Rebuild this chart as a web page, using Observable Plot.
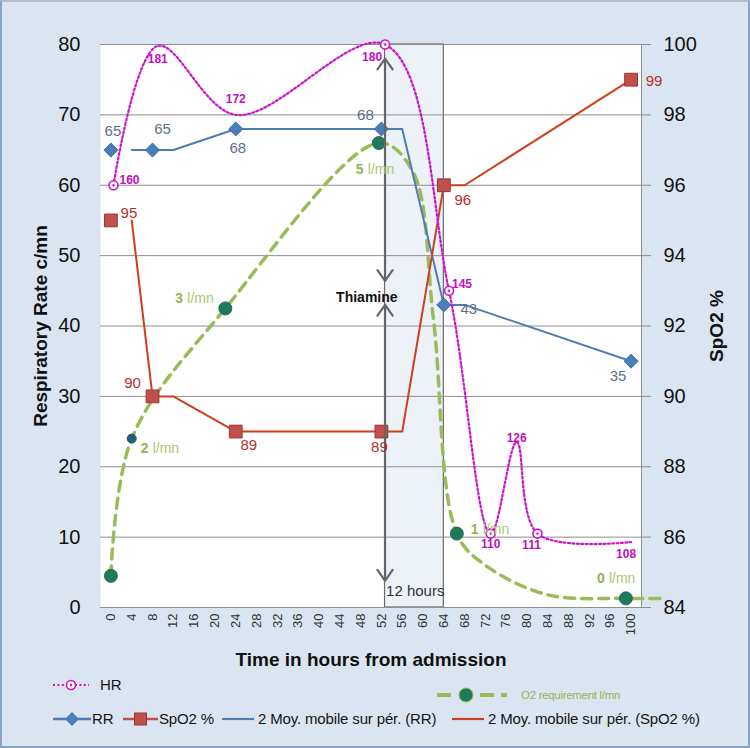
<!DOCTYPE html>
<html>
<head>
<meta charset="utf-8">
<script src="https://cdn.jsdelivr.net/npm/d3@7"></script>
<script src="https://cdn.jsdelivr.net/npm/@observablehq/plot@0.6"></script>
<style>
  body { margin: 0; background: #fff; }
  #frame { position: relative; width: 750px; height: 748px; background: #dbe5f1; overflow: hidden;
           font-family: "Liberation Sans", sans-serif; }
  #border { position: absolute; left: 0; top: 0; width: 750px; height: 748px; box-sizing: border-box;
            border: 2px solid #8aa3c4; border-top-color: #b7bec8; pointer-events: none; }
  #chart { position: absolute; left: 0; top: 0; }
  .lg { position: absolute; line-height: 20px; height: 20px; white-space: nowrap; font-size: 15px;
        letter-spacing: -0.15px; color: #141414; }
  .sw { position: absolute; overflow: visible; }
</style>
</head>
<body>
<div id="frame">
  <div id="chart"></div>
  <div id="legend"></div>
  <div id="border"></div>
</div>
<script>
// ---------- data ----------
const xTicks = [0,4,8,12,16,20,24,28,32,36,40,44,48,52,56,60,64,68,72,76,80,84,88,92,96,100];
const rrTicks = [0,10,20,30,40,50,60,70,80];
const spo2Ticks = [84,86,88,90,92,94,96,98,100];

const rrHours  = [0, 8, 24, 52, 64, 100];
const rrValues = [65, 65, 68, 68, 43, 35];

const spo2Hours  = [0, 8, 24, 52, 64, 100];
const spo2Values = [95, 90, 89, 89, 96, 99];

const rrMaHours  = [4, 12, 24, 56, 64, 68, 100];
const rrMaValues = [65, 65, 68, 68, 43, 43, 35];

const spo2MaHours  = [4, 8, 12, 24, 56, 64, 68, 100];
const spo2MaValues = [95, 90, 90, 89, 89, 96, 96, 99];

const hrHours   = [0.5, 9, 24, 52.7, 65, 73, 78, 82, 100];
const hrValues  = [160, 181, 172, 180, 145, 110, 126, 111, 108];
const hrPlotted = [60, 79.8, 70, 80, 45, 10.5, 23.5, 10.5, 9.3];   // height drawn on the left axis
const hrMarked  = [true, false, false, true, true, true, false, true, false];

const o2Hours   = [0, 4, 22, 51.5, 58, 62, 66.5, 72, 84, 99, 106.5];
const o2Plotted = [4.5, 24, 42.5, 66, 62, 41, 10.5, 6, 1.8, 1.3, 1.3];
const o2Marker  = ["big", "small", "big", "big", null, null, "big", null, null, "big", null];
const o2Labels  = [null, "2", "3", "5", null, null, "1", null, null, "0", null];

const thiamineBox = [{start: 52.7, end: 64}];
const thiamineArrows = [
  {x: 52.7, from: 62, to: 78}, {x: 52.7, from: 62, to: 46.4},
  {x: 52.7, from: 23, to: 43}, {x: 52.7, from: 23, to: 3.8}
];
const thiamineText = [{x: 49.2, y: 44, text: "Thiamine"}];
const twelveText = [{x: 52.7, y: 2.3, text: "12 hours"}];

// ---------- build tables ----------
const toLeft = v => (v - 84) * 5;   // SpO2 % -> left axis units
const rr = rrHours.map((h, i) => ({h, v: rrValues[i]}));
const spo2 = spo2Hours.map((h, i) => ({h, v: spo2Values[i]}));
const rrMa = rrMaHours.map((h, i) => ({h, v: rrMaValues[i]}));
const spo2Ma = spo2MaHours.map((h, i) => ({h, v: spo2MaValues[i]}));
const hr = hrHours.map((h, i) => ({h, v: hrPlotted[i], label: hrValues[i], marked: hrMarked[i]}));
const o2 = o2Hours.map((h, i) => ({h, v: o2Plotted[i], marker: o2Marker[i], label: o2Labels[i]}));

// label placement (layout only)
const rrOff   = [[2,-19],[10,-21],[2,19],[-16,-14],[25,4],[-13,15]];
const spo2Off = [[18,-7],[-20,-13],[13,14],[-2,16],[19,15],[23,1]];
const hrOff   = [[16,-5],[0,13],[0,-16],[-13,13],[13,-7],[0,11],[0,-4],[-6,12],[-5,12]];
const o2Off   = {1: [9,10], 2: [-50,-10], 3: [-23,26], 6: [14,-4], 9: [-29,-20]};

const FONT = "'Liberation Sans', sans-serif";

const labelMarks = [];
rr.forEach((d, i) => labelMarks.push(Plot.text([d], {x: "h", y: "v", text: d => String(d.v),
  dx: rrOff[i][0], dy: rrOff[i][1], fill: "#5c7189", fontSize: 15, fontFamily: FONT})));
spo2.forEach((d, i) => labelMarks.push(Plot.text([d], {x: "h", y: d => toLeft(d.v), text: d => String(d.v),
  dx: spo2Off[i][0], dy: spo2Off[i][1], fill: "#b3302c", fontSize: 15, fontFamily: FONT})));
hr.forEach((d, i) => labelMarks.push(Plot.text([d], {x: "h", y: "v", text: d => String(d.label),
  dx: hrOff[i][0], dy: hrOff[i][1], fill: "#c010c0", fontSize: 12, fontWeight: "bold", fontFamily: FONT})));
o2.forEach((d, i) => {
  if (d.label == null) return;
  const [dx, dy] = o2Off[i];
  labelMarks.push(Plot.text([d], {x: "h", y: "v", text: "label", dx, dy, textAnchor: "start",
    fill: "#93b452", fontSize: 14, fontWeight: "bold", fontFamily: FONT}));
  labelMarks.push(Plot.text([d], {x: "h", y: "v", text: () => "l/mn", dx: dx + 12, dy, textAnchor: "start",
    fill: "#aac772", fontSize: 14, fontFamily: FONT}));
});

const chart = Plot.plot({
  width: 750, height: 675,
  marginLeft: 100, marginRight: 109, marginTop: 44, marginBottom: 68,
  style: {background: "transparent", fontFamily: FONT, overflow: "visible"},
  x: {domain: [-2, 102]},
  y: {domain: [0, 80]},
  marks: [
    Plot.frame({fill: "white", stroke: null}),
    Plot.rect(thiamineBox, {x1: "start", x2: "end", y1: 0, y2: 80, fill: "#edf2f9", stroke: "#6a6a6a", strokeWidth: 1.2}),
    Plot.ruleY(rrTicks, {stroke: "#8e8e8e", strokeWidth: 1}),
    Plot.frame({anchor: "right", stroke: "#8e8e8e"}),
    Plot.axisY(rrTicks, {anchor: "left", tickSize: 0, tickPadding: 20, fontSize: 20, label: null, fill: "#111"}),
    Plot.axisY(spo2Ticks.map(toLeft), {anchor: "right", tickSize: 9, tickPadding: 13, fontSize: 20, label: null,
      fill: "#111", stroke: "#8e8e8e", tickFormat: d => String(Math.round(d / 5 + 84))}),
    Plot.axisX(xTicks, {anchor: "bottom", tickSize: 0, tickPadding: 6, tickRotate: -90, textAnchor: "end",
      fontSize: 13, label: null, fill: "#333"}),
    Plot.text(["Time in hours from admission"], {frameAnchor: "bottom", textAnchor: "middle", dy: 58, fontSize: 19,
      fontWeight: "bold", fill: "#111"}),
    Plot.text(["Respiratory Rate c/mn"], {frameAnchor: "left", textAnchor: "middle", dx: -60, rotate: -90, fontSize: 19,
      fontWeight: "bold", fill: "#111"}),
    Plot.text(["SpO2 %"], {frameAnchor: "right", textAnchor: "middle", dx: 75, rotate: -90, fontSize: 19,
      fontWeight: "bold", fill: "#111"}),
    // O2 requirement curve
    Plot.line(o2, {x: "h", y: "v", curve: "catmull-rom", stroke: "#9bbb59", strokeWidth: 3.5, strokeDasharray: "10 7"}),
    // moving averages
    Plot.line(rrMa, {x: "h", y: "v", stroke: "#4f7db3", strokeWidth: 2}),
    Plot.line(spo2Ma, {x: "h", y: d => toLeft(d.v), stroke: "#cf3f1c", strokeWidth: 2}),
    // HR
    Plot.line(hr, {x: "h", y: "v", curve: "catmull-rom", stroke: "#cc14cc", strokeWidth: 2.2, strokeDasharray: "2 2.4"}),
    // markers
    Plot.dot(o2.filter(d => d.marker === "big"), {x: "h", y: "v", r: 6.5, fill: "#1d7a5b", stroke: "#2c6a55", strokeWidth: 1}),
    Plot.dot(o2.filter(d => d.marker === "small"), {x: "h", y: "v", r: 4.5, fill: "#22607a", stroke: "#1b4e63", strokeWidth: 1}),
    Plot.dot(rr, {x: "h", y: "v", symbol: "diamond2", r: 6.3, fill: "#4a7ebb", stroke: "#3d6ca5", strokeWidth: 1}),
    Plot.dot(spo2, {x: "h", y: d => toLeft(d.v), symbol: "square", r: 7.2, fill: "#c0504d", stroke: "#9a3431", strokeWidth: 1}),
    Plot.dot(hr.filter(d => d.marked), {x: "h", y: "v", r: 4.5, fill: "white", stroke: "#cc14cc", strokeWidth: 1.6}),
    Plot.dot(hr.filter(d => d.marked), {x: "h", y: "v", r: 1.2, fill: "#cc14cc"}),
    // thiamine annotation
    Plot.arrow(thiamineArrows, {x1: "x", x2: "x", y1: "from", y2: "to", stroke: "#666", strokeWidth: 2.2, headLength: 9, headAngle: 70}),
    Plot.text(thiamineText, {x: "x", y: "y", text: "text", fontSize: 14, fontWeight: "bold", fill: "#111"}),
    Plot.text(twelveText, {x: "x", y: "y", text: "text", textAnchor: "start", dx: 1, fontSize: 15, fill: "#333"}),
    ...labelMarks
  ]
});
document.getElementById("chart").appendChild(chart);

// ---------- legend (HTML below the plot) ----------
const legend = document.getElementById("legend");
const NS = "http://www.w3.org/2000/svg";
function swatch(left, top, w, h, inner) {
  const s = document.createElementNS(NS, "svg");
  s.setAttribute("class", "sw"); s.setAttribute("width", w); s.setAttribute("height", h);
  s.style.left = left + "px"; s.style.top = top + "px";
  s.innerHTML = inner; legend.appendChild(s);
}
function label(left, centerY, text, extra) {
  const d = document.createElement("div");
  d.className = "lg"; d.textContent = text;
  d.style.left = left + "px"; d.style.top = (centerY - 10) + "px";
  if (extra) Object.assign(d.style, extra);
  legend.appendChild(d);
}
const legendItems = ["HR", "O2 requirement l/mn", "RR", "SpO2 %", "2 Moy. mobile sur pér. (RR)", "2 Moy. mobile sur pér. (SpO2 %)"];
swatch(53, 677, 36, 16, '<line x1="0" y1="8" x2="36" y2="8" stroke="#cc14cc" stroke-width="2.2" stroke-dasharray="2 2.4"/><circle cx="18" cy="8" r="4.5" fill="white" stroke="#cc14cc" stroke-width="1.6"/><circle cx="18" cy="8" r="1.2" fill="#cc14cc"/>');
label(100, 685, legendItems[0]);
swatch(437, 687, 72, 16, '<line x1="0" y1="8" x2="14" y2="8" stroke="#9bbb59" stroke-width="4"/><line x1="43" y1="8" x2="57" y2="8" stroke="#9bbb59" stroke-width="4"/><line x1="64" y1="8" x2="70" y2="8" stroke="#9bbb59" stroke-width="4"/><circle cx="29" cy="8" r="7" fill="#1d7a5b" stroke="#9bbb59" stroke-width="1"/>');
label(521, 695, legendItems[1], {fontSize: "11.5px", color: "#93b452", letterSpacing: "-0.3px"});
swatch(53, 711, 38, 16, '<line x1="0" y1="8" x2="38" y2="8" stroke="#4f7db3" stroke-width="2.5"/><path d="M19,1 L26,8 L19,15 L12,8 Z" fill="#4a7ebb"/>');
label(92, 719, legendItems[2]);
swatch(123, 711, 35, 16, '<line x1="0" y1="8" x2="35" y2="8" stroke="#c0504d" stroke-width="2.5"/><rect x="11.5" y="2" width="12" height="12" fill="#c0504d" stroke="#9a3431"/>');
label(159, 719, legendItems[3]);
swatch(222, 711, 32, 16, '<line x1="0" y1="8" x2="32" y2="8" stroke="#4f7db3" stroke-width="2.2"/>');
label(258, 719, legendItems[4]);
swatch(452, 711, 32, 16, '<line x1="0" y1="8" x2="32" y2="8" stroke="#cf3f1c" stroke-width="2.2"/>');
label(488, 719, legendItems[5]);
</script>
</body>
</html>
